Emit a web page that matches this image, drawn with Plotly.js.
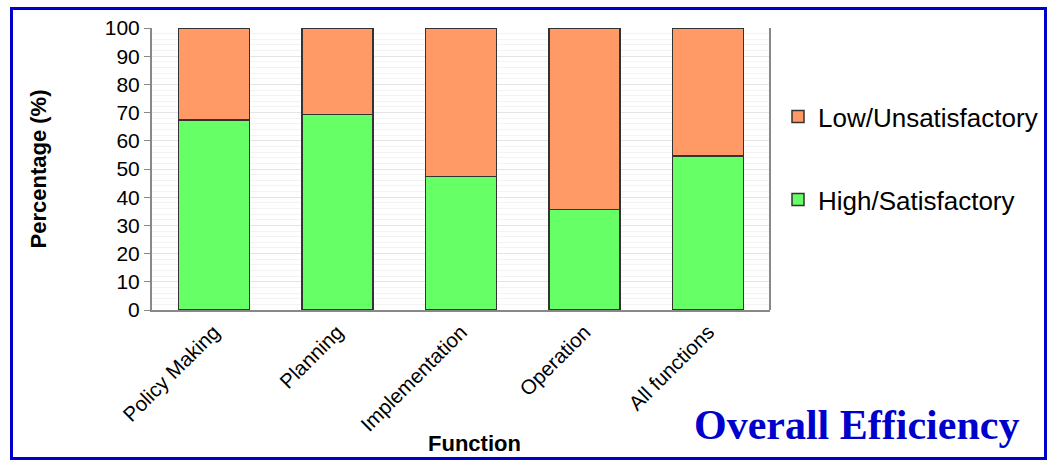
<!DOCTYPE html>
<html>
<head>
<meta charset="utf-8">
<script src="https://cdn.plot.ly/plotly-3.0.1.min.js"></script>
<style>
  html, body { margin: 0; padding: 0; background: #ffffff; }
  #chart { width: 1050px; height: 462px; }
</style>
</head>
<body>
<div id="chart"></div>
<script>
// Share of ratings per function
const functions = ["Policy Making", "Planning", "Implementation", "Operation", "All functions"];
const highSatisfactory = [67.4, 69.3, 47.3, 35.7, 54.6];
const lowUnsatisfactory = [32.6, 30.7, 52.7, 64.3, 45.4];
const yTicks = [0, 10, 20, 30, 40, 50, 60, 70, 80, 90, 100];

const W = 1050, H = 462;
const margin = { l: 152, r: 280, t: 28, b: 152, autoexpand: false };
const plotW = W - margin.l - margin.r;
const plotH = H - margin.t - margin.b;
// pixel -> paper helpers for decorations outside the plot area
const px = x => (x - margin.l) / plotW;
const py = y => (H - margin.b - y) / plotH;

const barLine = { color: "#333333", width: 1.5 };

const traces = [
  {
    type: "bar",
    name: "High/Satisfactory",
    x: functions,
    y: highSatisfactory,
    marker: { color: "#66FF66", line: barLine },
    legend: "legend2",
    hoverinfo: "x+y+name"
  },
  {
    type: "bar",
    name: "Low/Unsatisfactory",
    x: functions,
    y: lowUnsatisfactory,
    marker: { color: "#FF9966", line: barLine },
    legend: "legend",
    hoverinfo: "x+y+name"
  }
];

const legendFont = { family: "Liberation Sans, Arial, sans-serif", size: 26, color: "#000000" };

const layout = {
  width: W,
  height: H,
  margin: margin,
  barmode: "stack",
  bargap: 0.425,
  paper_bgcolor: "#ffffff",
  plot_bgcolor: "#ffffff",
  font: { family: "Liberation Sans, Arial, sans-serif", color: "#000000" },
  showlegend: true,
  xaxis: {
    type: "category",
    tickangle: -45,
    tickfont: { size: 20.5 },
    showline: true,
    linecolor: "#888888",
    linewidth: 2,
    ticks: "",
    showgrid: false,
    automargin: false
  },
  yaxis: {
    range: [0, 100],
    tickvals: yTicks,
    ticktext: yTicks.map(String),
    tickfont: { size: 21 },
    ticks: "outside",
    ticklen: 6,
    tickcolor: "#888888",
    showline: true,
    linecolor: "#888888",
    linewidth: 2,
    mirror: false,
    showgrid: true,
    gridcolor: "#e4e4e4",
    gridwidth: 1,
    minor: { dtick: 2, showgrid: true, gridcolor: "#f3f3f3", gridwidth: 1 },
    zeroline: false,
    fixedrange: true,
    automargin: false,
    title: { text: "<b>Percentage (%)</b>", font: { size: 22 }, standoff: 52 }
  },
  legend: {
    x: px(778), y: py(93), xanchor: "left", yanchor: "top",
    font: legendFont, bgcolor: "rgba(0,0,0,0)", borderwidth: 0,
    itemclick: false, itemdoubleclick: false
  },
  legend2: {
    x: px(778), y: py(176), xanchor: "left", yanchor: "top",
    font: legendFont, bgcolor: "rgba(0,0,0,0)", borderwidth: 0,
    itemclick: false, itemdoubleclick: false
  },
  shapes: [
    // right edge of the plot area
    { type: "line", xref: "paper", yref: "paper", x0: 1, x1: 1, y0: 0, y1: 1,
      line: { color: "#888888", width: 2 } },
    // blue frame around the whole chart
    { type: "rect", xref: "paper", yref: "paper",
      x0: px(11.5), x1: px(1045.5), y0: py(458.5), y1: py(8.5),
      line: { color: "#0000CC", width: 3 }, fillcolor: "rgba(0,0,0,0)", layer: "above" }
  ],
  annotations: [
    {
      // x-axis caption
      text: "<b>Function</b>",
      xref: "paper", yref: "paper",
      x: px(475), y: py(443), xanchor: "center", yanchor: "middle",
      showarrow: false,
      font: { family: "Liberation Sans, Arial, sans-serif", size: 22, color: "#000000" }
    },
    {
      text: "<b>Overall Efficiency</b>",
      xref: "paper", yref: "paper",
      x: px(856), y: py(425), xanchor: "center", yanchor: "middle",
      showarrow: false,
      font: { family: "Liberation Serif, Times New Roman, serif", size: 42, color: "#0000CC" }
    }
  ]
};

Plotly.newPlot("chart", traces, layout, { displayModeBar: false, staticPlot: true });
</script>
</body>
</html>
